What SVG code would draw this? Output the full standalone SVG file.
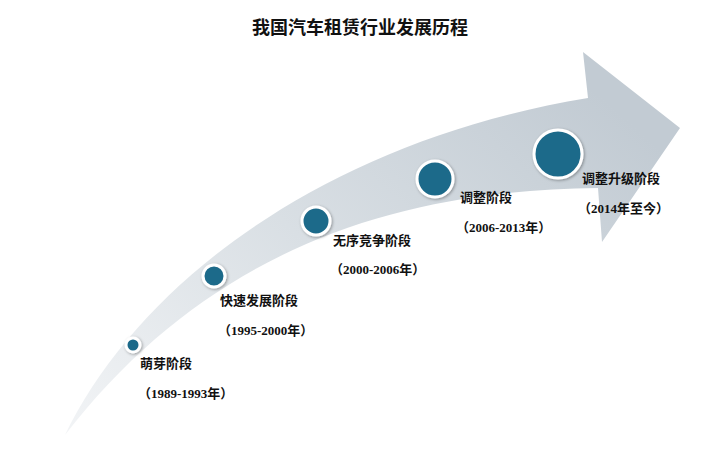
<svg xmlns="http://www.w3.org/2000/svg" width="719" height="453" viewBox="0 0 719 453">
<defs>
<linearGradient id="g" x1="0" y1="1" x2="1" y2="0.3">
<stop offset="0" stop-color="#f2f4f6"/>
<stop offset="0.5" stop-color="#d9dfe4"/>
<stop offset="1" stop-color="#c2cbd3"/>
</linearGradient>
<filter id="sh" x="-50%" y="-50%" width="200%" height="200%"><feDropShadow dx="1" dy="1" stdDeviation="1.5" flood-opacity="0.35"/></filter>
</defs>
<style>
.c{fill:#1f6a8a;stroke:#fff;stroke-width:3;filter:url(#sh)}
.t{font-family:"Noto Sans CJK SC","Noto Sans",sans-serif;font-size:13px;font-weight:bold;fill:#111}
.y{font-family:"Liberation Serif","Noto Sans CJK SC",serif;font-size:13px;font-weight:bold;fill:#111}
.h{font-family:"Noto Sans CJK SC",serif;font-size:18px;font-weight:bold;fill:#111}
</style>
<rect width="719" height="453" fill="#fff"/>
<text class="h" x="360" y="34" text-anchor="middle">我国汽车租赁行业发展历程</text>
<g id="arrow"><path d="M65,435 C140,280 330,140 588,98 L583,52 L680,128 L602,242 L598,188 C380,190 200,260 65,435 Z" fill="url(#g)"/></g>
<g id="connectors"/>
<g id="n1"><circle class="c" cx="133" cy="345" r="7"/><text class="t" x="140" y="368">萌芽阶段</text><text class="y" x="138" y="398">（1989-1993年）</text></g>
<g id="n2"><circle class="c" cx="214" cy="276" r="11"/><text class="t" x="220" y="305">快速发展阶段</text><text class="y" x="218" y="335">（1995-2000年）</text></g>
<g id="n3"><circle class="c" cx="316" cy="221" r="14"/><text class="t" x="333" y="245">无序竞争阶段</text><text class="y" x="330" y="274">（2000-2006年）</text></g>
<g id="n4"><circle class="c" cx="435" cy="179" r="18"/><text class="t" x="460" y="202">调整阶段</text><text class="y" x="456" y="232">（2006-2013年）</text></g>
<g id="n5"><circle class="c" cx="558" cy="154" r="24"/><text class="t" x="582" y="183">调整升级阶段</text><text class="y" x="578" y="213">（2014年至今）</text></g>
</svg>
